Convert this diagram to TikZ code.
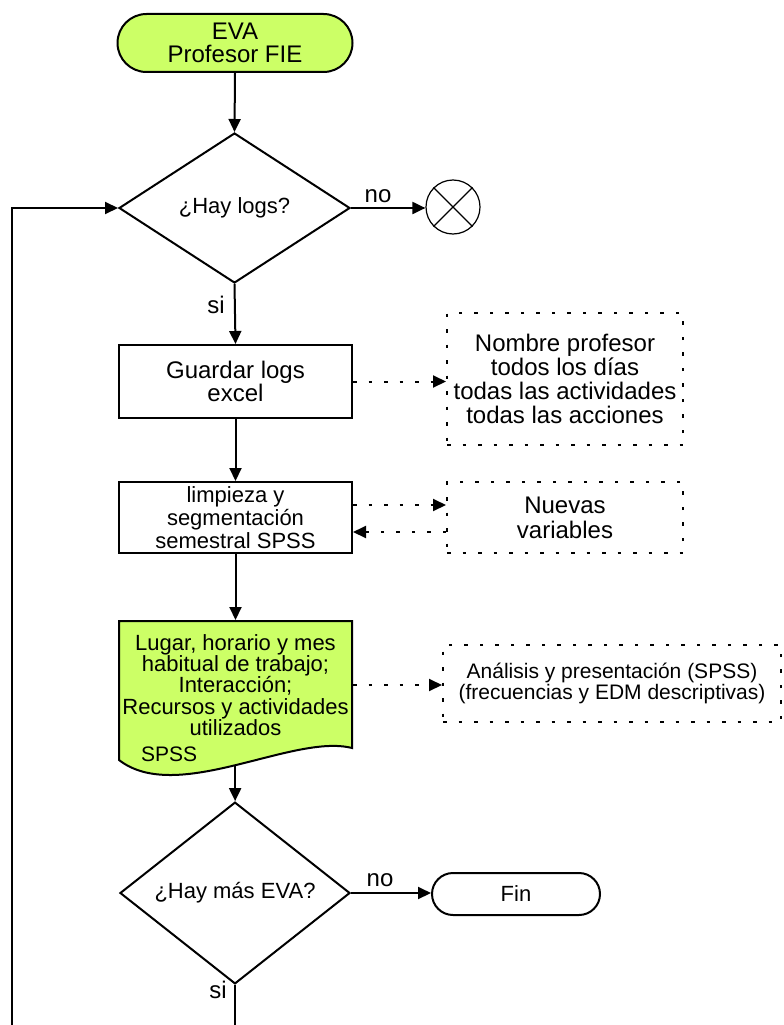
\documentclass[tikz,border=0pt]{standalone}
\usepackage{fontspec}
\setmainfont{Liberation Sans}
\usetikzlibrary{arrows.meta,shapes.geometric,shapes.misc,calc}
\definecolor{lime}{RGB}{204,255,102}
\begin{document}
\begin{tikzpicture}[x=1pt,y=-1pt,
  line width=2pt,
  >={Triangle[length=13pt,width=12pt]},
  flow/.style={->},
  dotflow/.style={->, dash pattern=on 3.5pt off 12pt},
  terminal/.style={draw, rounded rectangle, inner sep=0pt, align=center},
  process/.style={draw, rectangle, inner sep=0pt, minimum width=233pt, align=center},
  decision/.style={draw, diamond, inner sep=0pt, align=center,
    font=\fontsize{22}{22}\selectfont},
  memo/.style={draw, dash pattern=on 3.5pt off 12pt, rectangle, inner sep=0pt, align=center},
  lbl/.style={inner sep=0pt, font=\fontsize{24}{24}\selectfont},
]
\useasboundingbox (0,0) rectangle (784,1025);

% start
\node[terminal, fill=lime, minimum width=235pt, minimum height=58pt,
  font=\fontsize{24}{23}\selectfont] (start) at (235,43) {EVA\\Profesor FIE};

% first decision and exit
\node[decision, minimum width=231pt, minimum height=150pt] (d1) at (234.5,208) {¿Hay logs?};
\node[draw, circle, line width=1.2pt, minimum size=54pt, inner sep=0pt] (xc) at (453,207) {};
\draw[line width=1.2pt] (xc.north west) -- (xc.south east);
\draw[line width=1.2pt] (xc.north east) -- (xc.south west);

% processing steps
\node[process, minimum height=73pt, font=\fontsize{24}{23}\selectfont] (r1) at (235.5,381.5) {Guardar logs\\excel};
\node[memo, minimum width=236pt, minimum height=132pt, font=\fontsize{24}{24}\selectfont] (n1) at (565,379)
  {Nombre profesor\\todos los días\\todas las actividades\\todas las acciones};

\node[process, minimum height=71pt, font=\fontsize{22}{23}\selectfont] (r2) at (235.5,517.5)
  {limpieza y\\segmentación\\semestral SPSS};
\node[memo, minimum width=236pt, minimum height=71pt, font=\fontsize{24}{25}\selectfont] (n2) at (565,517.5)
  {Nuevas\\variables};

% document shape with wavy bottom
\draw[fill=lime] (119,760) -- (119,621) -- (352,621) -- (352,748)
  .. controls (293,733) and (177,805) .. (119,760) coordinate[pos=0.5] (docb) -- cycle;
\node[inner sep=0pt, minimum width=233pt, minimum height=128pt, align=center,
  font=\fontsize{22}{21.3}\selectfont] (doc) at (235.5,685)
  {Lugar, horario y mes\\habitual de trabajo;\\Interacción;\\Recursos y actividades\\utilizados};
\node[anchor=west, inner sep=0pt, font=\fontsize{21}{21}\selectfont] (docsys) at (140,754) {SPSS};

\node[memo, minimum width=338pt, minimum height=77pt, font=\fontsize{21}{21}\selectfont] (n3) at (612,683.5)
  {Análisis y presentación (SPSS)\\(frecuencias y EDM descriptivas)};

% second decision
\node[decision, minimum width=230pt, minimum height=147pt] (d2) at (235,893) {¿Hay más EVA?};
\node[terminal, minimum width=168pt, minimum height=42pt, font=\fontsize{22}{22}\selectfont] (fin) at (516,894) {Fin};

% branch labels
\node[lbl] (no1) at (378,196) {no};
\node[lbl] (si1) at (216,305) {si};
\node[lbl] (no2) at (380,880) {no};
\node[lbl] (si2) at (218,990) {si};

% loose ends at the bottom
\coordinate (d2out) at (235,1025);
\coordinate (loopb) at (12,1025);

% connectors
\draw[flow] (start.south) -- (d1.north);
\draw[flow] (d1.east) -- (d1.east -| xc.west);
\draw[flow] (d1.south) -- (r1.north);
\draw[dotflow] (r1.east) -- (r1.east -| n1.west);
\draw[flow] (r1.south) -- (r2.north);
\draw[dotflow] ([yshift=12.5pt]r2.east) -- ([yshift=12.5pt]r2.east -| n2.west);
\draw[dotflow] ([yshift=-14.5pt]n2.west) -- ([yshift=-14.5pt]n2.west -| r2.east);
\draw[flow] (r2.south) -- (doc.north);
\draw[dotflow] (doc.east) -- (doc.east -| n3.west);
\draw[flow] (docb) -- (docb |- d2.north);
\draw[flow] (d2.east) -- (d2.east -| fin.west);
\draw (d2.south) -- (d2out);
\draw[flow] (loopb) |- (d1.west);
\end{tikzpicture}
\end{document}
